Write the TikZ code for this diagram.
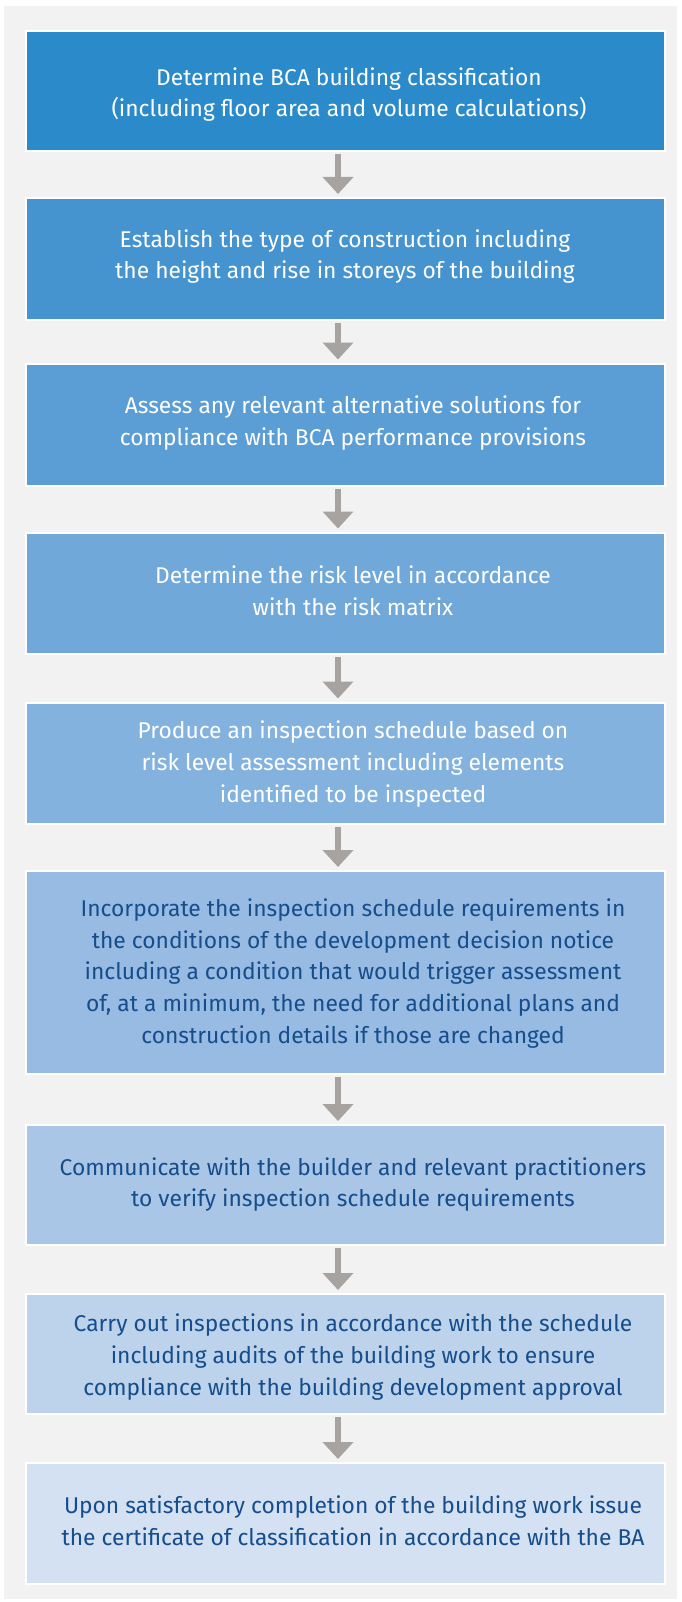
\documentclass[tikz,border=0pt]{standalone}
\usepackage{fontspec}
\setmainfont{Fira Sans}
\usetikzlibrary{arrows.meta}
\definecolor{panel}{HTML}{F2F2F2}
\definecolor{arrowc}{HTML}{A7A3A1}
\definecolor{dtext}{HTML}{164D8B}
\definecolor{c1}{HTML}{2B8BCA}
\definecolor{c2}{HTML}{4594D0}
\definecolor{c3}{HTML}{5B9DD5}
\definecolor{c4}{HTML}{70A8DA}
\definecolor{c5}{HTML}{84B2DE}
\definecolor{c6}{HTML}{97BBE2}
\definecolor{c7}{HTML}{AAC6E6}
\definecolor{c8}{HTML}{BDD3EC}
\definecolor{c9}{HTML}{D3E1F2}
\tikzset{
  stepbox/.style={draw=white, line width=2pt, minimum width=639pt, inner sep=0pt},
  steptext/.style={align=center, inner sep=0pt, anchor=base,
    font=\fontsize{22.8}{31.6}\selectfont},
  arr/.style={draw=arrowc, line width=6pt, -{Triangle[width=30pt,length=17pt]},
    shorten <=2pt, shorten >=3pt}
}
\begin{document}
\begin{tikzpicture}[x=1pt,y=-1pt]
\useasboundingbox (0,0) rectangle (681,1602);
\fill[white] (0,0) rectangle (681,1602);
\fill[panel] (4,6) rectangle (677,1599);
\node[stepbox, fill=c1, minimum height=120pt] (b1) at (345,91) {};
\node[steptext, text=white] (t1) at (349,116.7)
  {Determine BCA building classification\\(including floor area and volume calculations)};
\node[stepbox, fill=c2, minimum height=122pt] (b2) at (345,259) {};
\node[steptext, text=white] (t2) at (345,279)
  {Establish the type of construction including\\the height and rise in storeys of the building};
\node[stepbox, fill=c3, minimum height=122pt] (b3) at (345,424.5) {};
\node[steptext, text=white] (t3) at (353,445)
  {Assess any relevant alternative solutions for\\compliance with BCA performance provisions};
\node[stepbox, fill=c4, minimum height=121pt] (b4) at (345,593) {};
\node[steptext, text=white] (t4) at (353,615.3)
  {Determine the risk level in accordance\\with the risk matrix};
\node[stepbox, fill=c5, minimum height=121pt] (b5) at (345,763) {};
\node[steptext, text=white] (t5) at (353,802)
  {Produce an inspection schedule based on\\risk level assessment including elements\\identified to be inspected};
\node[stepbox, fill=c6, minimum height=203pt] (b6) at (345,972.5) {};
\node[steptext, text=dtext] (t6) at (353,1043)
  {Incorporate the inspection schedule requirements in\\the conditions of the development decision notice\\including a condition that would trigger assessment\\of, at a minimum, the need for additional plans and\\construction details if those are changed};
\node[stepbox, fill=c7, minimum height=120pt] (b7) at (345,1185) {};
\node[steptext, text=dtext] (t7) at (353,1206.7)
  {Communicate with the builder and relevant practitioners\\to verify inspection schedule requirements};
\node[stepbox, fill=c8, minimum height=120pt] (b8) at (345,1354) {};
\node[steptext, text=dtext] (t8) at (353,1395)
  {Carry out inspections in accordance with the schedule\\including audits of the building work to ensure\\compliance with the building development approval};
\node[stepbox, fill=c9, minimum height=121pt] (b9) at (345,1523.5) {};
\node[steptext, text=dtext] (t9) at (353,1545)
  {Upon satisfactory completion of the building work issue\\the certificate of classification in accordance with the BA};
\foreach \a/\b in {b1/b2,b2/b3,b3/b4,b4/b5,b5/b6,b6/b7,b7/b8,b8/b9}
  \draw[arr] ([xshift=-7pt]\a.south) -- ([xshift=-7pt]\b.north);
\end{tikzpicture}
\end{document}
